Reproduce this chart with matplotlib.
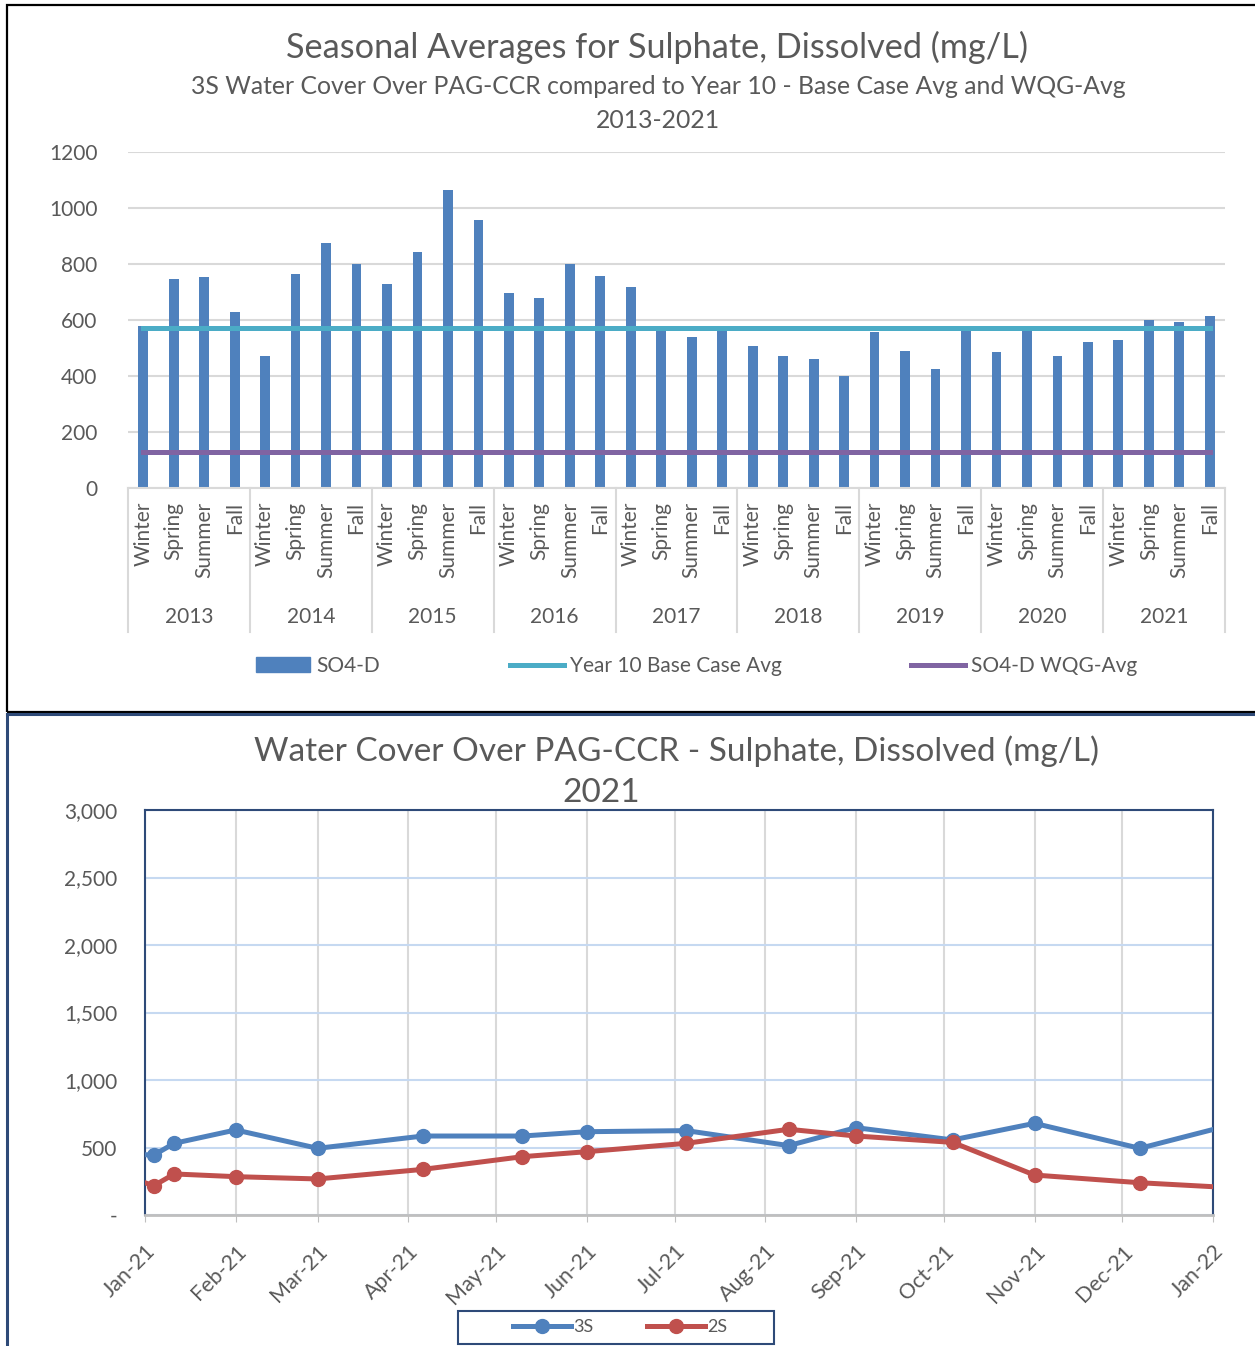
import numpy as np
import datetime as dt
import matplotlib
matplotlib.use('Agg')
import matplotlib.pyplot as plt
import matplotlib.dates as mdates
from matplotlib.lines import Line2D
from matplotlib.patches import Rectangle, Patch

plt.rcParams['font.family'] = ['Lato', 'DejaVu Sans']
GREY = '#595959'

# --- top chart data: seasonal averages 2013-2021
years = ['2013', '2014', '2015', '2016', '2017', '2018', '2019', '2020', '2021']
seasons = ['Winter', 'Spring', 'Summer', 'Fall']
so4_d = [579, 746, 754, 629,
         471, 765, 875, 801,
         728, 842, 1064, 957,
         697, 677, 799, 757,
         718, 565, 539, 569,
         507, 473, 461, 400,
         556, 489, 424, 569,
         486, 565, 470, 520,
         528, 599, 593, 616]
base_case_avg = 572
wqg_avg = 128

# --- bottom chart data: 2021 monthly samples
dates = ['2020-12-28', '2021-01-04', '2021-01-11', '2021-02-01', '2021-03-01',
         '2021-04-06', '2021-05-10', '2021-06-01', '2021-07-05', '2021-08-09',
         '2021-09-01', '2021-10-04', '2021-11-01', '2021-12-07', '2022-01-04']
s3 = [450, 444, 531, 630, 494, 585, 585, 617, 625, 514, 647, 556, 679, 494, 650]
s2 = [268, 217, 304, 284, 267, 338, 432, 469, 531, 635, 585, 538, 296, 239, 206]

W, H = 1255, 1346
fig = plt.figure(figsize=(W / 100, H / 100), dpi=100)


def box(l, t, r, b):
    return [l / W, 1 - b / H, (r - l) / W, (b - t) / H]


# panel borders
fig.add_artist(Rectangle((7 / W, 1 - 712 / H), 1.2, (712 - 5) / H, transform=fig.transFigure,
                         fill=False, edgecolor='black', lw=1.6))
fig.add_artist(Line2D([7 / W, 1], [1 - 714 / H] * 2, transform=fig.transFigure, color='#2E4A78', lw=2.2))
fig.add_artist(Line2D([7 / W] * 2, [0, 1 - 714 / H], transform=fig.transFigure, color='#2E4A78', lw=2.2))

# ---------------- top chart
ax1 = fig.add_axes(box(128, 152, 1225, 488))
x = np.arange(len(so4_d))
ax1.bar(x, so4_d, width=0.32, color='#4F81BD', zorder=2)
ax1.plot(x, [base_case_avg] * len(x), color='#4BACC6', lw=3.6, zorder=3)
ax1.plot(x, [wqg_avg] * len(x), color='#8064A2', lw=3.6, zorder=3)
ax1.set_xlim(-0.5, len(x) - 0.5)
ax1.set_ylim(0, 1200)
ax1.set_yticks(range(0, 1201, 200))
ax1.grid(axis='y', color='#D9D9D9', lw=1.5, zorder=0)
for s in ['top', 'left', 'right']:
    ax1.spines[s].set_visible(False)
ax1.spines['bottom'].set_color('#D9D9D9')
ax1.spines['bottom'].set_linewidth(1.5)
ax1.tick_params(axis='y', length=0, labelsize=15, labelcolor=GREY, pad=22)
ax1.set_xticks(x)
ax1.set_xticklabels(seasons * len(years), rotation=90, fontsize=15, color=GREY)
ax1.tick_params(axis='x', length=0, pad=10)
tr = ax1.get_xaxis_transform()
for i, yr in enumerate(years):
    ax1.text(4 * i + 1.5, -129 / 336, yr, transform=tr, ha='center', va='center',
             fontsize=15, color=GREY)
for i in range(len(years) + 1):
    ax1.add_line(Line2D([4 * i - 0.5] * 2, [0, -144 / 336], transform=tr,
                        color='#D9D9D9', lw=1.5, clip_on=False))

fig.text(657 / W, 1 - 47 / H, 'Seasonal Averages for Sulphate, Dissolved (mg/L)',
         ha='center', va='center', fontsize=24.7, color=GREY)
fig.text(658 / W, 1 - 86 / H,
         '3S Water Cover Over PAG-CCR compared to Year 10 - Base Case Avg and WQG-Avg',
         ha='center', va='center', fontsize=17.8, color=GREY)
fig.text(658 / W, 1 - 121 / H, '2013-2021', ha='center', va='center', fontsize=17.8, color=GREY)

h1 = [Patch(color='#4F81BD'),
      Line2D([], [], color='#4BACC6', lw=3.6),
      Line2D([], [], color='#8064A2', lw=3.6)]
fig.legend(h1, ['SO4-D', 'Year 10 Base Case Avg', 'SO4-D WQG-Avg'], loc='center',
           bbox_to_anchor=(697 / W, 1 - 666 / H), ncol=3, frameon=False, fontsize=15,
           handlelength=2.6, handletextpad=0.3, columnspacing=6.2, labelcolor=GREY)

# ---------------- bottom chart
ax2 = fig.add_axes(box(145, 810, 1213, 1215))
d = [dt.datetime.strptime(v, '%Y-%m-%d') for v in dates]
ax2.plot(d, s3, '-o', color='#4F81BD', lw=3.6, ms=10, zorder=3)
ax2.plot(d, s2, '-o', color='#C0504D', lw=3.6, ms=10, zorder=3)
ax2.set_xlim(dt.datetime(2021, 1, 1), dt.datetime(2022, 1, 1))
ax2.set_ylim(0, 3000)
ax2.set_yticks(range(0, 3001, 500))
ax2.set_yticklabels(['-' if v == 0 else f'{v:,}' for v in range(0, 3001, 500)])
ax2.xaxis.set_major_locator(mdates.MonthLocator())
ax2.xaxis.set_major_formatter(mdates.DateFormatter('%b-%y'))
ax2.grid(axis='y', color='#C6D9F1', lw=1.5, zorder=0)
ax2.grid(axis='x', color='#D9D9D9', lw=1.5, zorder=0)
for s in ['top', 'left', 'right']:
    ax2.spines[s].set_color('#2E4A78')
    ax2.spines[s].set_linewidth(1.5)
ax2.spines['bottom'].set_color('#BFBFBF')
ax2.spines['bottom'].set_linewidth(2)
ax2.tick_params(axis='y', length=0, labelsize=15, labelcolor=GREY, pad=20)
ax2.tick_params(axis='x', length=5, color='#BFBFBF', labelsize=15.5, labelcolor=GREY, pad=14)
for lab in ax2.get_xticklabels():
    lab.set_rotation(45)
    lab.set_ha('right')
    lab.set_rotation_mode('anchor')

fig.text(676 / W, 1 - 751 / H, 'Water Cover Over PAG-CCR - Sulphate, Dissolved (mg/L)',
         ha='center', va='center', fontsize=24, color=GREY)
fig.text(601 / W, 1 - 793 / H, '2021', ha='center', va='center', fontsize=24, color=GREY)

fig.add_artist(Rectangle((458 / W, 1 - 1344 / H), 316 / W, 33 / H, transform=fig.transFigure,
                         fill=False, edgecolor='#2E4A78', lw=1.5))
h2 = [Line2D([], [], color='#4F81BD', lw=3.6, marker='o', ms=10),
      Line2D([], [], color='#C0504D', lw=3.6, marker='o', ms=10)]
fig.legend(h2, ['3S', '2S'], loc='center', bbox_to_anchor=(620 / W, 1 - 1327 / H), ncol=2,
           frameon=False, fontsize=13, handlelength=3.2, handletextpad=0.1,
           columnspacing=3.0, labelcolor=GREY)

fig.savefig('out.png', dpi=100)
